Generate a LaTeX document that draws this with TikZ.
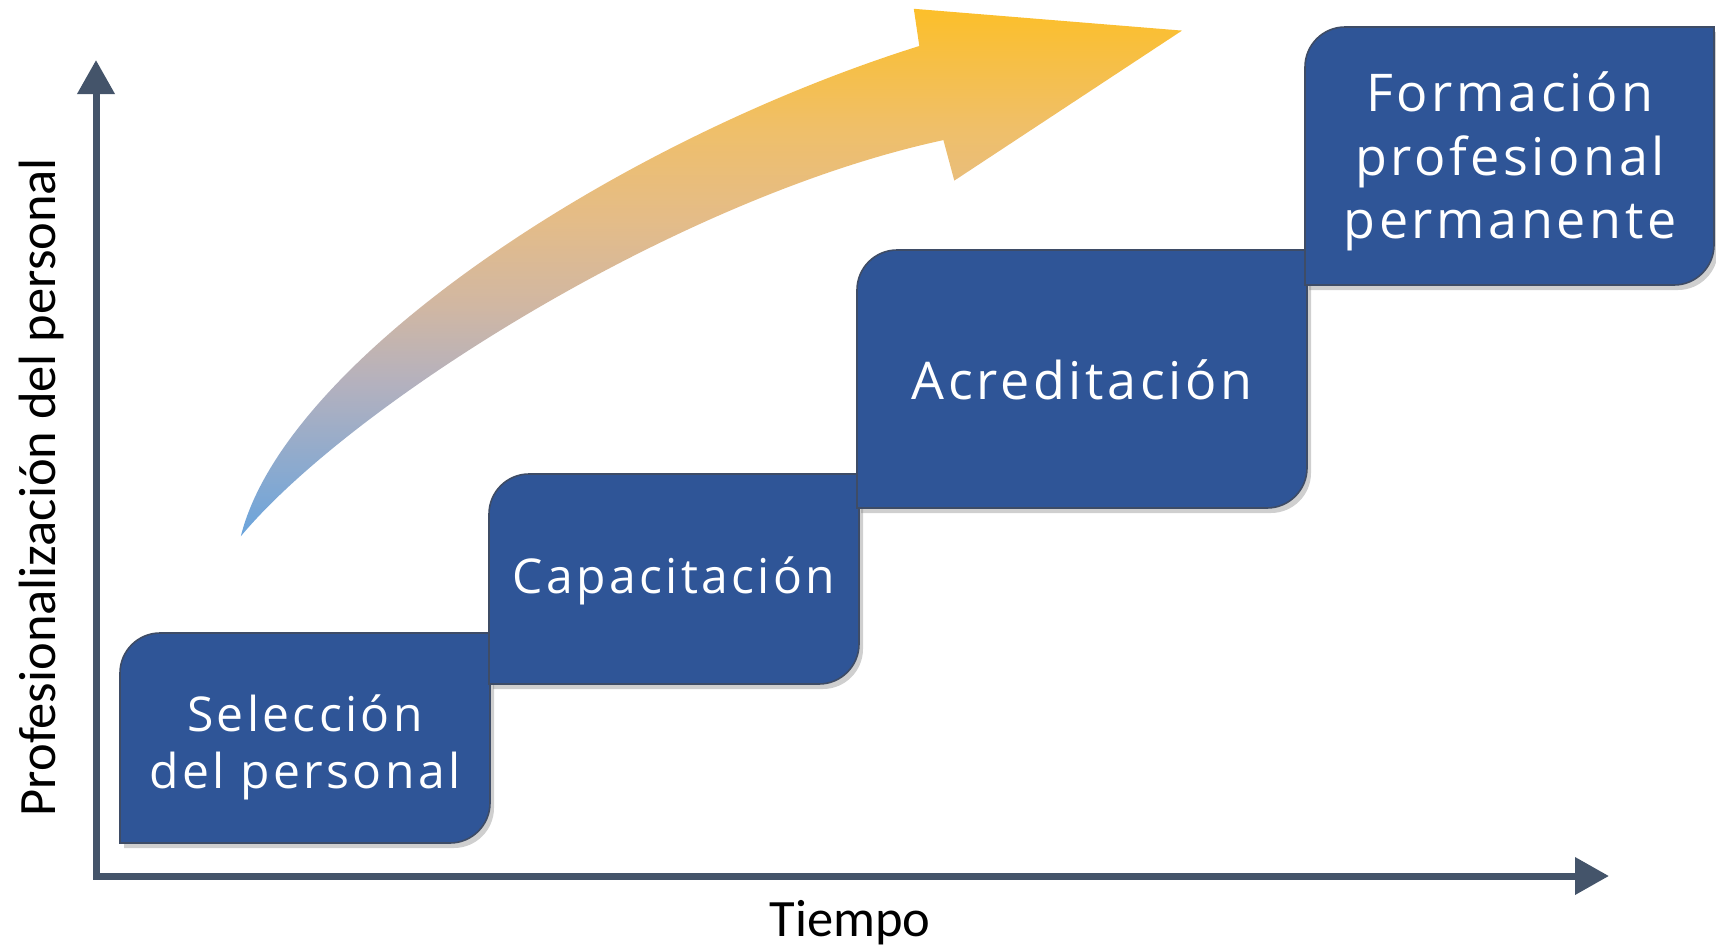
\documentclass[tikz,border=0pt]{standalone}
\usepackage{fontspec}
\setmainfont{Carlito}
\newfontfamily\boxfont[LetterSpace=7]{Open Sans}
\usetikzlibrary{arrows.meta,shadows}
\definecolor{axisc}{HTML}{44546A}
\definecolor{boxfill}{HTML}{2F5597}
\definecolor{boxline}{HTML}{3E4C66}
\definecolor{gA}{HTML}{6AA4DC}
\definecolor{gB}{HTML}{B4B1BE}
\definecolor{gC}{HTML}{D1B7A2}
\definecolor{gD}{HTML}{E4BC88}
\definecolor{gE}{HTML}{EFBF6A}
\definecolor{gF}{HTML}{FCBF2A}
\pgfdeclareverticalshading{growshade}{100bp}{color(0bp)=(gA); color(25bp)=(gA); color(39.5bp)=(gB); color(47bp)=(gC); color(55bp)=(gD); color(63.5bp)=(gE); color(75bp)=(gF); color(100bp)=(gF)}
\newcommand\stepshape[4]{%
  \path[stepbox] (#1,#4) -- (#1,#2+40) .. controls (#1,#2+18) and (#1+18,#2) .. (#1+40,#2)
    -- (#3,#2) -- (#3,#4-40) .. controls (#3,#4-18) and (#3-18,#4) .. (#3-40,#4) -- cycle;}
\begin{document}
\begin{tikzpicture}[x=1pt,y=-1pt,
  stepbox/.style={fill=boxfill,draw=boxline,line width=1.6pt,
    drop shadow={shadow xshift=4pt,shadow yshift=-5pt,opacity=0.38}},
  smalltext/.style={text=white,anchor=base,inner sep=0pt,
    font=\boxfont\fontsize{48}{56}\selectfont},
  bigtext/.style={text=white,anchor=base,inner sep=0pt,
    font=\boxfont\fontsize{52}{62}\selectfont},
  axislabel/.style={text=black,inner sep=0pt,font=\fontsize{52.5}{60}\selectfont},
  axisline/.style={draw=axisc,line width=7pt,line join=miter,
    {Triangle[length=34pt,width=36pt]}-{Triangle[length=34pt,width=36pt]}}]
\useasboundingbox (0,0) rectangle (1716,950);

% growth arrow
\shade[shading=growshade]
  (240.8,536.3) .. controls (284.5,361.2) and (612.9,142.3) .. (919.3,46)
  -- (913.8,8.8) -- (1182,30.6) -- (954.3,180.6) -- (943.4,140.1)
  .. controls (678.5,197) and (350.2,405) .. (240.8,536.3) -- cycle;

% axes
\coordinate (ytop) at (96,60);
\coordinate (orig) at (96,876);
\coordinate (xend) at (1609,876);
\draw[axisline] (ytop) -- (orig) -- (xend);

% steps
\stepshape{120}{633}{490}{843}
\stepshape{489}{474}{859}{684}
\stepshape{857}{250}{1307}{508}
\stepshape{1305}{27}{1714}{285}

\node[smalltext] (sel1) at (305,731) {Selección};
\node[smalltext] (sel2) at (305,788) {del personal};
\node[smalltext] (cap) at (674,593) {Capacitación};
\node[bigtext] (acr) at (1082,399) {Acreditación};
\node[bigtext] (for1) at (1510,111) {Formación};
\node[bigtext] (for2) at (1510,175) {profesional};
\node[bigtext] (for3) at (1510,238) {permanente};

\node[axislabel,anchor=base,rotate=90] (ylab) at (55,487) {Profesionalización del personal};
\node[axislabel,anchor=base] (xlab) at (850,936) {Tiempo};
\end{tikzpicture}
\end{document}
